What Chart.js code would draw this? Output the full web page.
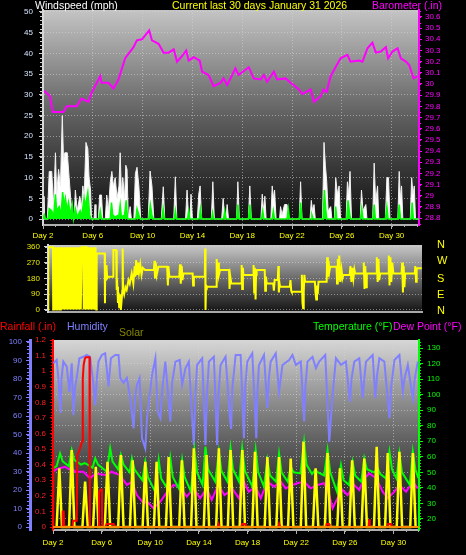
<!DOCTYPE html>
<html>
<head>
<meta charset="utf-8">
<script src="https://cdn.jsdelivr.net/npm/chart.js@4.4.1/dist/chart.umd.min.js"></script>
<style>
  html, body { margin: 0; padding: 0; background: #000; }
  body { width: 466px; height: 555px; position: relative; overflow: hidden; font-family: "Liberation Sans", Arial, sans-serif; }
  canvas { position: absolute; left: 0; }
  .t { position: absolute; font-size: 10.5px; line-height: 12px; white-space: nowrap; z-index: 2; }
  .d { position: absolute; left: 437px; font-size: 11px; line-height: 12px; color: #ffff00; z-index: 2; }
</style>
</head>
<body>
<canvas id="windChart" width="466" height="242" style="top:0"></canvas>
<canvas id="dirChart" width="466" height="76" style="top:242px"></canvas>
<canvas id="climateChart" width="466" height="237" style="top:318px"></canvas>

<div class="t" style="left:35px;top:-1px;color:#fff">Windspeed (mph)</div>
<div class="t" style="left:172px;top:-1px;color:#ffff00">Current last 30 days January 31 2026</div>
<div class="t" style="left:372px;top:-1px;color:#ff00ff">Barometer (.in)</div>

<div class="d" style="top:238px">N</div>
<div class="d" style="top:254px">W</div>
<div class="d" style="top:272px">S</div>
<div class="d" style="top:288px">E</div>
<div class="d" style="top:304px">N</div>

<div class="t" style="left:0;top:320px;color:#ff0000">Rainfall (.in)</div>
<div class="t" style="left:67px;top:320px;color:#8080ff">Humidity</div>
<div class="t" style="left:119px;top:326px;color:#888800">Solar</div>
<div class="t" style="left:313px;top:320px;color:#00ff00">Temperature (°F)</div>
<div class="t" style="left:393px;top:320px;color:#ff00ff">Dew Point (°F)</div>

<script>
// Ejes
const dayTicks = [2, 6, 10, 14, 18, 22, 26, 30];
const windTicks = [0, 5, 10, 15, 20, 25, 30, 35, 40, 45, 50];
const baroTicks = [28.8, 28.9, 29, 29.1, 29.2, 29.3, 29.4, 29.5, 29.6, 29.7, 29.8, 29.9, 30, 30.1, 30.2, 30.3, 30.4, 30.5, 30.6];
const dirTicks = [0, 90, 180, 270, 360];
const humTicks = [0, 10, 20, 30, 40, 50, 60, 70, 80, 90, 100];
const rainTicks = [0, 0.1, 0.2, 0.3, 0.4, 0.5, 0.6, 0.7, 0.8, 0.9, 1, 1.1, 1.2];
const tempTicks = [20, 30, 40, 50, 60, 70, 80, 90, 100, 110, 120, 130];

// Barómetro [día, in]
const baroIn = [[2.1,29.94],[2.56,29.89],[2.78,29.75],[3.64,29.75],[3.9,29.80],[4.7,29.80],[5.1,29.87],[5.65,29.84],[5.9,29.92],[6.6,30.07],[6.7,30.01],[7.26,30.01],[7.66,29.96],[8.06,30.04],[8.6,30.23],[9.27,30.33],[9.54,30.39],[9.95,30.40],[10.53,30.48],[10.75,30.39],[11.28,30.36],[11.69,30.28],[12.09,30.28],[12.5,30.31],[12.76,30.20],[13.17,30.25],[13.5,30.30],[13.7,30.21],[14.1,30.24],[14.58,30.21],[14.78,30.11],[15.3,30.08],[15.7,29.98],[16.25,30.01],[16.5,30.05],[16.79,29.99],[17.46,30.14],[17.7,30.08],[18.53,30.15],[18.93,30.05],[19.47,30.04],[19.74,30.08],[20.0,30.02],[20.54,30.11],[20.8,30.04],[21.48,30.05],[21.89,30.01],[22.56,29.95],[22.83,29.91],[23.5,29.95],[23.77,29.84],[24.3,29.89],[24.52,29.95],[24.79,29.93],[25.1,30.07],[25.5,30.15],[25.9,30.23],[26.45,30.26],[26.7,30.20],[27.39,30.21],[27.66,30.20],[28.06,30.32],[28.46,30.37],[28.73,30.28],[29.13,30.29],[29.54,30.33],[29.72,30.23],[30.07,30.29],[30.48,30.32],[30.74,30.23],[31.15,30.20],[31.41,30.17],[31.77,30.05],[32.08,30.07]];

// Viento (ráfagas y promedio) [día, mph]
const windGust = [[2.0,0],[2.08,5.5],[2.14,0],[2.35,0],[2.5,11.5],[2.7,11.5],[2.85,3],[3.0,16],[3.1,6],[3.25,12],[3.4,8],[3.55,25],[3.65,14],[3.75,16],[3.95,16],[4.1,10],[4.25,4],[4.4,1],[4.5,0],[4.6,7],[4.75,2],[4.95,5.5],[5.1,3],[5.2,8],[5.3,5],[5.45,18.5],[5.6,17],[5.7,10],[5.82,7],[5.9,0],[6.1,0],[6.18,3.5],[6.25,0],[6.45,0],[6.55,5.8],[6.7,5.8],[6.8,0],[7.0,0],[7.12,5.8],[7.25,2],[7.4,8.8],[7.53,11.5],[7.65,8],[7.8,10],[7.95,5],[8.1,8],[8.2,16],[8.3,6],[8.41,10],[8.55,5],[8.65,13],[8.75,12],[8.85,0],[9.0,3],[9.1,0],[9.3,0],[9.42,11],[9.55,12.5],[9.7,8],[9.85,0],[10.45,0],[10.6,11.6],[10.75,8],[10.9,0],[11.5,0],[11.66,7.8],[11.78,0],[12.5,0],[12.63,10.2],[12.75,0],[13.45,0],[13.57,7],[13.7,0],[13.8,0],[13.89,6],[14.0,0],[14.4,0],[14.51,6],[14.62,8],[14.74,0],[15.52,0],[15.64,9],[15.76,0],[16.35,0],[16.47,5],[16.6,0],[16.7,0],[16.79,3.5],[16.9,0],[17.55,0],[17.65,9],[17.77,0],[18.5,0],[18.61,8],[18.73,0],[19.5,0],[19.61,6],[19.7,2],[19.82,5.5],[19.92,0],[20.3,0],[20.41,8],[20.5,5],[20.6,7],[20.72,0],[21.0,0],[21.08,3],[21.2,1],[21.4,3.5],[21.6,3.5],[21.7,0],[22.58,0],[22.69,9],[22.8,0],[23.45,0],[23.55,4.5],[23.65,2],[23.77,3.5],[23.87,0],[24.45,0],[24.57,18.5],[24.68,13],[24.79,9],[24.9,2],[25.11,3],[25.2,0],[25.4,0],[25.51,10],[25.65,6],[25.78,8],[25.9,0],[26.35,0],[26.45,9],[26.55,6],[26.66,11.5],[26.78,0],[27.48,0],[27.58,7],[27.7,2],[27.93,3.5],[28.02,0],[28.48,0],[28.6,13.5],[28.72,4],[28.87,8],[28.97,0],[29.5,0],[29.62,10],[29.75,10],[29.87,0],[30.5,0],[30.61,11.5],[30.7,5],[30.8,8],[30.9,0],[31.5,0],[31.61,10],[31.72,6],[31.82,8],[31.92,0],[32.2,0]];
const windAvg = [[2.0,0],[2.1,1],[2.2,0],[2.4,0],[2.5,2.5],[2.7,2],[2.85,0.5],[3.0,6],[3.1,2],[3.3,3],[3.45,1],[3.58,6.5],[3.7,3],[3.8,5],[3.95,2],[4.05,4],[4.2,1],[4.35,3.5],[4.45,0],[4.6,2.5],[4.75,0.5],[4.98,2],[5.1,0.5],[5.3,5],[5.4,3],[5.6,6.5],[5.75,1],[5.85,0],[6.5,0],[6.6,2],[6.7,0],[7.4,0],[7.5,4],[7.6,1],[7.8,0.5],[8.1,1],[8.2,3.5],[8.3,0.5],[8.55,1],[8.68,4.5],[8.8,0],[9.45,0],[9.55,2.5],[9.7,1],[9.8,0],[10.5,0],[10.62,3.5],[10.75,1],[10.85,0],[11.55,0],[11.65,2.5],[11.75,0],[12.55,0],[12.63,2],[12.72,0],[13.6,0],[13.7,2],[13.8,0],[14.55,0],[14.64,2.5],[14.75,0],[15.55,0],[15.62,1.5],[15.7,0],[16.5,0],[16.6,2],[16.7,0],[17.55,0],[17.65,3.5],[17.75,0],[18.5,0],[18.61,3.5],[18.72,0],[19.55,0],[19.65,2],[19.75,0],[20.4,0],[20.5,2],[20.6,0],[21.6,0],[21.7,2.5],[21.8,0],[22.6,0],[22.69,4],[22.8,0],[23.55,0],[23.6,1],[23.7,0],[24.5,0],[24.6,7],[24.72,2],[24.8,0],[25.45,0],[25.51,3],[25.6,0],[26.4,0],[26.5,4.5],[26.6,2],[26.7,0],[27.5,0],[27.6,2.5],[27.7,0],[28.5,0],[28.6,3.5],[28.7,0],[29.5,0],[29.62,3],[29.72,0],[30.5,0],[30.61,3.5],[30.72,0],[31.55,0],[31.65,4],[31.75,0],[32.2,0]];

// Dirección del viento [día, grados]
const windDir = [[2.0,3],[2.02,357],[2.4,357],[2.42,3],[2.45,357],[2.5,3],
  [2.55,357],[2.61,3],[2.67,357],[2.73,3],[2.79,357],[2.85,3],[2.91,357],[2.97,3],[3.03,357],[3.09,3],[3.15,357],[3.21,3],[3.27,357],[3.33,3],[3.39,357],[3.45,3],[3.51,357],[3.57,3],[3.63,357],[3.69,3],[3.75,357],[3.81,3],[3.87,357],[3.93,3],[3.99,357],[4.05,3],[4.11,357],[4.17,3],[4.23,357],[4.29,3],[4.35,357],[4.41,3],[4.47,357],[4.53,3],[4.59,357],[4.65,3],[4.71,357],
  [4.85,357],[4.87,3],[4.9,357],[5.0,357],[5.02,3],[5.05,357],
  [5.12,357],[5.18,3],[5.24,357],[5.30,3],[5.36,357],[5.42,3],[5.48,357],[5.54,3],[5.60,357],[5.66,3],[5.72,357],[5.78,3],[5.84,357],[5.90,3],
  [5.93,322],[6.58,322],[6.6,38],[6.62,250],[6.67,170],[6.72,256],[6.78,180],[6.87,189],[7.25,189],[7.28,341],[7.5,341],[7.55,114],[7.6,132],[7.65,40],[7.7,100],[7.75,10],[7.82,90],[7.88,0],[7.95,60],[8.0,110],[8.03,350],[8.06,120],[8.15,90],[8.25,130],[8.35,114],[8.5,170],[8.6,150],[8.76,208],[8.89,151],[9.0,250],[9.05,190],[9.12,284],[9.2,200],[9.28,270],[9.35,215],[9.45,260],[9.55,200],[9.65,240],[9.84,227],[10.55,227],[10.6,280],[10.64,180],[10.7,270],[10.78,200],[10.91,246],[11.62,246],[11.68,140],[11.72,250],[11.8,189],[12.6,189],[12.66,260],[12.72,150],[12.8,250],[12.86,170],[12.93,208],[13.68,208],[13.72,140],[13.78,189],[14.66,189],[14.69,350],[14.72,0],[14.76,140],[14.82,132],[15.58,132],[15.62,290],[15.68,180],[15.74,270],[15.8,200],[15.89,227],[16.62,227],[16.66,120],[16.72,190],[16.8,151],[17.62,151],
  [17.64,256],[17.68,120],[17.74,240],[17.78,199],[18.56,199],[18.6,256],[18.65,100],[18.7,240],[18.76,60],[18.8,200],[18.85,227],[19.5,227],[19.54,110],[19.6,190],[19.66,151],[20.18,151],[20.24,110],[20.3,170],[20.55,170],[20.6,250],[20.64,100],[20.7,150],[20.74,132],[21.52,132],[21.58,170],[21.64,110],[21.68,104],[22.45,104],[22.5,200],[22.55,40],[22.6,10],[22.65,100],[22.7,200],[22.76,161],[23.55,161],[23.6,100],[23.66,60],[23.72,140],[23.78,90],[23.84,161],[24.5,161],[24.54,300],[24.6,190],[24.66,280],[24.72,220],[24.78,246],[25.3,246],[25.34,150],[25.4,290],[25.46,170],[25.52,310],[25.6,160],[25.7,230],[25.78,180],[25.85,199],[26.36,199],[26.42,250],[26.5,160],[26.58,240],[26.66,180],[26.74,230],[26.8,208],[27.45,208],[27.5,270],[27.56,120],[27.62,250],[27.68,130],[27.74,208],[28.5,208],[28.55,300],[28.62,160],[28.68,290],[28.75,170],[28.82,208],[29.47,208],[29.52,310],[29.58,140],[29.65,300],[29.72,160],[29.8,270],[29.89,208],[30.55,208],[30.6,270],[30.66,100],[30.72,250],[30.78,130],[30.84,208],[31.62,208],[31.66,250],[31.72,160],[31.76,240],[31.78,237],[32.18,237]];

// Humedad [día, %]
const humidity = [[2.03,88.5],[2.3,90.3],[2.44,80.5],[2.63,61.6],[2.7,80],[2.85,89.4],[3.13,86.7],[3.35,73],[3.54,88.5],[3.68,60.5],[3.8,75],[3.95,80.5],[4.17,91.2],[4.5,92],[4.78,93],[5.05,92],[5.33,76.8],[5.47,66],[5.6,80],[5.74,89.4],[6.02,93],[6.29,93.9],[6.57,76],[6.76,91.2],[7.12,93],[7.39,93],[7.53,80.5],[7.8,78],[8.08,80.5],[8.35,69.6],[8.63,53.3],[8.75,70],[8.9,76.8],[9.12,80.5],[9.32,48],[9.59,42.5],[9.73,58.8],[10.14,82],[10.42,91.2],[10.61,62.3],[10.83,58.8],[11.0,75],[11.24,89.4],[11.65,57],[11.8,78],[12.07,89.4],[12.42,90.3],[12.62,76.8],[12.89,85.8],[13.17,89.4],[13.58,44.3],[13.7,70],[13.85,87.6],[14.27,91.2],[14.54,44.3],[14.65,70],[14.82,89.4],[15.23,92],[15.5,44.3],[15.6,70],[15.78,87.6],[16.19,92],[16.55,58.8],[16.65,53],[16.75,75],[17.02,93],[17.43,93],[17.7,48],[17.8,75],[17.98,89.4],[18.39,93.9],[18.72,48],[18.8,72],[18.94,87.6],[19.35,93],[19.63,64.2],[19.75,80],[19.9,89.4],[20.32,93.9],[20.59,73],[20.87,87.6],[21.42,90.3],[21.69,93],[21.97,87.6],[22.38,89.4],[22.65,57],[22.75,75],[22.93,89.4],[23.34,92],[23.62,85.8],[23.89,89.4],[24.39,93],[24.72,46],[24.99,71],[25.27,91.2],[25.68,87.6],[26.09,89.4],[26.42,67.7],[26.55,80],[26.78,89.4],[27.19,91.2],[27.47,69.6],[27.6,80],[27.74,89.4],[28.29,93],[28.51,69.6],[28.65,82],[28.84,91.2],[29.25,89.4],[29.67,58.8],[29.8,75],[30.08,90.3],[30.49,93],[30.77,73],[30.9,80],[31.18,87.6],[31.59,69.6],[31.75,80],[32.0,89.4]];

// Temperatura y punto de rocío [día, °F]
const temperature = [[2.0,52.6],[2.3,54],[2.58,62.2],[2.8,57],[3.3,54],[3.54,64.4],[3.75,58],[4.3,55],[4.6,56],[4.85,55],[5.25,53],[5.47,59],[5.7,55],[6.43,50.4],[6.7,65.5],[6.9,57],[7.35,52],[7.58,61.2],[7.8,55],[8.3,50],[8.49,59],[8.7,52],[9.35,45],[9.59,56.8],[9.8,47],[10.4,37.6],[10.69,58],[10.9,46],[11.4,39.7],[11.65,59],[11.85,47],[12.35,39.7],[12.62,58],[12.82,47],[13.35,37.6],[13.63,64.4],[13.85,50],[14.3,41.9],[14.54,66.5],[14.75,52],[15.35,44],[15.64,63.3],[15.85,51],[16.35,44],[16.6,65.5],[16.8,52],[17.3,44],[17.56,65.5],[17.78,51],[18.4,40.8],[18.67,64.4],[18.88,50],[19.35,40.8],[19.63,58],[19.85,48],[20.35,44],[20.59,62.2],[20.8,50],[21.3,44],[21.55,53.6],[21.8,50],[22.35,49.3],[22.65,69.7],[22.85,55],[23.3,49],[23.55,51.5],[23.8,50],[24.3,48],[24.58,64.4],[24.8,50],[25.35,37.6],[25.68,54.7],[25.9,45],[26.35,41.9],[26.64,56.8],[26.85,48],[27.35,44],[27.6,59],[27.82,52],[28.4,50],[28.7,52.6],[28.9,49],[29.4,46],[29.67,63.3],[29.88,52],[30.25,46],[30.49,62.2],[30.7,50],[31.35,41.9],[31.59,63.3],[31.8,52],[32.05,46.2]];
const dewPoint = [[2.0,50.4],[2.3,52],[2.58,52.6],[3.0,53.6],[3.3,52],[3.54,53],[3.8,50.4],[4.5,50.4],[5.05,46.2],[5.5,49.3],[6.43,48.2],[6.8,50.4],[7.5,48.2],[8.08,41.9],[8.5,44],[8.9,35.4],[9.45,30.1],[9.73,31.2],[10.27,26.9],[10.83,31.2],[11.4,37.6],[11.9,41.9],[12.45,40.8],[13.0,34.4],[13.55,39.7],[14.1,33.3],[14.65,39.7],[15.05,32.3],[15.6,41.9],[16.1,35.4],[16.5,37.6],[16.74,39.7],[17.29,33.3],[17.7,44],[18.1,37.6],[18.67,40.8],[19.08,33.3],[19.63,44],[20.18,40.8],[20.73,44],[21.14,39.7],[21.69,41.9],[22.1,43],[22.65,44],[23.2,39.7],[23.75,41.9],[24.3,43],[24.72,35.4],[24.99,26.9],[25.4,33.3],[25.81,38.7],[26.23,35.4],[26.78,41.9],[27.19,38.7],[27.6,46.2],[28.02,49.3],[28.57,46.2],[29.12,37.6],[29.53,33.3],[30.08,37.6],[30.49,41.9],[31.04,37.6],[31.59,44],[32.0,39.7]];

// Lluvia [día, in]
const rainfall = [[2.0,0.47],[2.02,0],[2.75,0],[2.8,0.1],[2.88,0.1],[2.92,0],[3.6,0],[3.65,0.04],[3.95,0.04],[4.0,0.46],[4.2,0.5],[4.4,0.55],[4.45,0.95],[4.52,1.04],[4.62,1.08],[4.7,1.09],[5.0,1.09],[5.03,0],[5.72,0],[5.78,0.22],[5.9,0.24],[6.02,0.24],[6.05,0],[6.3,0],[6.4,0.02],[7.0,0.02],[7.1,0],[15.55,0],[15.6,0.02],[15.7,0],[17.5,0],[17.55,0.02],[17.8,0.02],[17.85,0],[20.55,0],[20.6,0.02],[20.7,0],[24.45,0],[24.5,0.02],[24.7,0.02],[24.75,0],[27.95,0],[28.0,0.05],[28.05,0],[29.5,0],[29.55,0.02],[29.8,0.02],[29.85,0],[32.1,0]];
const rainRate = [[2.0,0],[32.1,0]];

// Radiación solar: mediodía y pico de cada día (W/m²)
const solarNoon = [2.52, 3.54, 4.64, 5.52, 6.48, 7.58, 8.55, 9.59, 10.52, 11.51, 12.6, 13.58, 14.62, 15.64, 16.6, 17.57, 18.61, 19.63, 20.59, 21.55, 22.6, 23.6, 24.58, 25.6, 26.6, 27.6, 28.62, 29.53, 30.49, 31.6];
const solarPeak = [317, 416, 245, 326, 353, 389, 361, 353, 353, 378, 361, 425, 389, 425, 416, 416, 407, 378, 378, 370, 460, 317, 400, 317, 361, 370, 434, 400, 407, 400];
const solarHalfDay = 0.22;

const F = '"Liberation Sans", Arial, sans-serif';
const GRID = 'rgba(215,215,215,0.55)';

Chart.defaults.font.family = F;
Chart.defaults.font.size = 8;
Chart.defaults.animation = false;
Chart.defaults.events = [];
Chart.defaults.plugins.legend.display = false;
Chart.defaults.plugins.tooltip.enabled = false;
Chart.defaults.elements.point.radius = 0;
Chart.defaults.elements.line.tension = 0;

const pts = arr => arr.map(([x, y]) => ({ x, y }));
const fixedTicks = list => s => { s.ticks = list.map(v => ({ value: v })); };
const box = (w, h) => s => {
  if (w != null) s.width = w;
  if (h != null) s.height = h;
  s.paddingTop = s.paddingBottom = s.paddingLeft = s.paddingRight = 0;
};
const dayLabel = v => 'Day ' + v;
const oneDecimal = v => String(+(+v).toFixed(1));

const solarPts = [];
solarNoon.forEach((d, i) => {
  solarPts.push({ x: d - solarHalfDay, y: 0 }, { x: d, y: solarPeak[i] }, { x: d + solarHalfDay, y: 0 });
});

// Fondo degradado del área del gráfico
const panelShade = {
  id: 'panelShade',
  beforeDraw(chart, args, opts) {
    const { ctx, chartArea: a } = chart;
    const g = ctx.createLinearGradient(0, a.top, 0, a.bottom);
    opts.stops.forEach(([p, c]) => g.addColorStop(p, c));
    ctx.save();
    ctx.fillStyle = g;
    ctx.fillRect(a.left, a.top, a.right - a.left, a.bottom - a.top);
    ctx.restore();
  }
};

// Marcas menores en los ejes
const minorTicks = {
  id: 'minorTicks',
  afterDraw(chart, args, opts) {
    const ctx = chart.ctx;
    (opts.marks || []).forEach(m => {
      const s = chart.scales[m.axis];
      ctx.save();
      ctx.strokeStyle = m.color;
      ctx.lineWidth = 1;
      ctx.beginPath();
      for (let v = m.from; v <= m.to + 1e-9; v += m.step) {
        const p = Math.round(s.getPixelForValue(v)) + 0.5;
        if (s.isHorizontal()) { ctx.moveTo(p, s.top); ctx.lineTo(p, s.top + m.len); }
        else if (s.position === 'left') { ctx.moveTo(s.right, p); ctx.lineTo(s.right - m.len, p); }
        else { ctx.moveTo(s.left, p); ctx.lineTo(s.left + m.len, p); }
      }
      ctx.stroke();
      ctx.restore();
    });
  }
};

// 1. Viento + barómetro
new Chart(document.getElementById('windChart'), {
  type: 'line',
  plugins: [panelShade, minorTicks],
  data: {
    datasets: [
      { label: 'Barometer', data: pts(baroIn), yAxisID: 'yBaro', borderColor: '#ff00ff', borderWidth: 2 },
      { label: 'Wind speed', data: pts(windAvg), yAxisID: 'y', borderColor: '#00ff00', backgroundColor: '#00ff00', fill: 'origin', borderWidth: 1.5 },
      { label: 'Wind gust', data: pts(windGust), yAxisID: 'y', borderColor: '#f0f0f0', backgroundColor: '#ffffff', fill: 'origin', borderWidth: 1 },
    ]
  },
  options: {
    responsive: false,
    layout: { padding: { top: 10, left: 0, right: 0, bottom: 0 } },
    plugins: {
      panelShade: { stops: [[0, '#c4c4c4'], [0.5, '#5e5e5e'], [1, '#0c0c0c']] },
      minorTicks: { marks: [
        { axis: 'y', from: 0, to: 50, step: 1, len: 3, color: '#d0d0d0' },
        { axis: 'yBaro', from: 28.75, to: 30.65, step: 0.05, len: 2, color: '#ff00ff' },
        { axis: 'x', from: 2, to: 32, step: 1, len: 2, color: '#b0b0b0' },
      ] }
    },
    scales: {
      x: {
        type: 'linear', min: 2, max: 32.2,
        afterBuildTicks: fixedTicks(dayTicks), afterFit: box(null, 17),
        ticks: { color: '#ffff00', padding: 2, maxRotation: 0, autoSkip: false, callback: dayLabel },
        grid: { color: GRID, tickLength: 4, tickColor: '#b0b0b0' },
        border: { color: '#b0b0b0', width: 2, dash: [1, 2] }
      },
      y: {
        position: 'left', min: -1.44, max: 50.48,
        afterBuildTicks: fixedTicks(windTicks), afterFit: box(43),
        ticks: { color: '#d4e4ff', padding: 6, autoSkip: false, callback: v => v },
        grid: { color: GRID, tickLength: 4, tickColor: '#d0d0d0' },
        border: { color: '#d8d8d8', width: 2, dash: [1, 2] }
      },
      yBaro: {
        position: 'right', min: 28.738, max: 30.662,
        afterBuildTicks: fixedTicks(baroTicks), afterFit: box(47),
        ticks: { color: '#ff00ff', padding: 3, autoSkip: false, callback: oneDecimal },
        grid: { drawOnChartArea: false, tickLength: 3, tickColor: '#ff00ff' },
        border: { color: '#ff00ff', width: 2 }
      }
    }
  }
});

// 2. Dirección del viento
new Chart(document.getElementById('dirChart'), {
  type: 'line',
  plugins: [panelShade, minorTicks],
  data: {
    datasets: [
      { label: 'Wind direction', data: pts(windDir), borderColor: '#ffff00', borderWidth: 2 }
    ]
  },
  options: {
    responsive: false,
    layout: { padding: { top: 3, left: 0, right: 44, bottom: 0 } },
    plugins: {
      panelShade: { stops: [[0, '#c8c8c8'], [0.5, '#6a6a6a'], [1, '#141414']] },
      minorTicks: { marks: [{ axis: 'y', from: 0, to: 360, step: 30, len: 3, color: '#d0d0d0' }] }
    },
    scales: {
      x: {
        type: 'linear', min: 2, max: 32.2, afterFit: box(null, 6),
        ticks: { display: false }, grid: { display: false },
        border: { color: '#a8a8a8', width: 2 }
      },
      y: {
        position: 'left', min: -11.4, max: 369.7,
        afterBuildTicks: fixedTicks(dirTicks), afterFit: box(48),
        ticks: { color: '#e6e600', padding: 4, autoSkip: false, callback: v => v },
        grid: { color: GRID, tickLength: 4, tickColor: '#d0d0d0' },
        border: { color: '#d8d8d8', width: 2, dash: [1, 2] }
      }
    }
  }
});

// 3. Lluvia, humedad, solar, temperatura y punto de rocío
new Chart(document.getElementById('climateChart'), {
  type: 'line',
  plugins: [panelShade, minorTicks],
  data: {
    datasets: [
      { label: 'Rain rate', data: pts(rainRate), yAxisID: 'yRain', borderColor: '#ff8c00', borderWidth: 2 },
      { label: 'Rainfall', data: pts(rainfall), yAxisID: 'yRain', borderColor: '#ff0000', borderWidth: 2 },
      { label: 'Solar', data: solarPts, yAxisID: 'ySolar', borderColor: '#ffff00', borderWidth: 2.5 },
      { label: 'Temperature', data: pts(temperature), yAxisID: 'yTemp', borderColor: '#00ff00', borderWidth: 2 },
      { label: 'Dew Point', data: pts(dewPoint), yAxisID: 'yTemp', borderColor: '#ff00ff', borderWidth: 2 },
      { label: 'Humidity', data: pts(humidity), yAxisID: 'yHum', borderColor: '#8080ff', borderWidth: 2 },
    ]
  },
  options: {
    responsive: false,
    layout: { padding: { top: 22, left: 0, right: 0, bottom: 0 } },
    plugins: {
      panelShade: { stops: [[0, '#d6d6d6'], [0.5, '#666666'], [1, '#080808']] },
      minorTicks: { marks: [
        { axis: 'yHum', from: 0, to: 100, step: 2, len: 3, color: '#8080ff' },
        { axis: 'yRain', from: 0, to: 1.2, step: 0.02, len: 2, color: '#ff0000' },
        { axis: 'yTemp', from: 14, to: 134, step: 2, len: 2, color: '#00ff00' },
        { axis: 'x', from: 2, to: 32, step: 1, len: 2, color: '#b0b0b0' },
      ] }
    },
    scales: {
      x: {
        type: 'linear', min: 2, max: 32.1,
        afterBuildTicks: fixedTicks(dayTicks), afterFit: box(null, 25),
        ticks: { color: '#ffff00', padding: 4, maxRotation: 0, autoSkip: false, callback: dayLabel },
        grid: { color: GRID, tickLength: 4, tickColor: '#b0b0b0' },
        border: { color: '#b0b0b0', width: 2, dash: [1, 2] }
      },
      yHum: {
        position: 'left', weight: 1, min: -1.62, max: 101.08,
        afterBuildTicks: fixedTicks(humTicks), afterFit: box(30),
        ticks: { color: '#8080ff', padding: 4, autoSkip: false, callback: v => v },
        grid: { drawOnChartArea: false, tickLength: 4, tickColor: '#8080ff' },
        border: { color: '#8080ff', width: 3 }
      },
      yRain: {
        position: 'left', weight: 0, min: -0.0192, max: 1.2,
        afterBuildTicks: fixedTicks(rainTicks), afterFit: box(23),
        ticks: { color: '#ff2020', padding: 4, autoSkip: false, callback: oneDecimal },
        grid: { drawOnChartArea: false, tickLength: 3, tickColor: '#ff0000' },
        border: { color: '#ff0000', width: 2 }
      },
      yTemp: {
        position: 'right', min: 12.92, max: 135.15,
        afterBuildTicks: fixedTicks(tempTicks), afterFit: box(47),
        ticks: { color: '#00ff00', padding: 4, autoSkip: false, callback: v => v },
        grid: { color: GRID, tickLength: 4, tickColor: '#00ff00' },
        border: { color: '#00ff00', width: 2, dash: [1, 2] }
      },
      ySolar: { display: false, min: -16.2, max: 1010.8 }
    }
  }
});
</script>
</body>
</html>
